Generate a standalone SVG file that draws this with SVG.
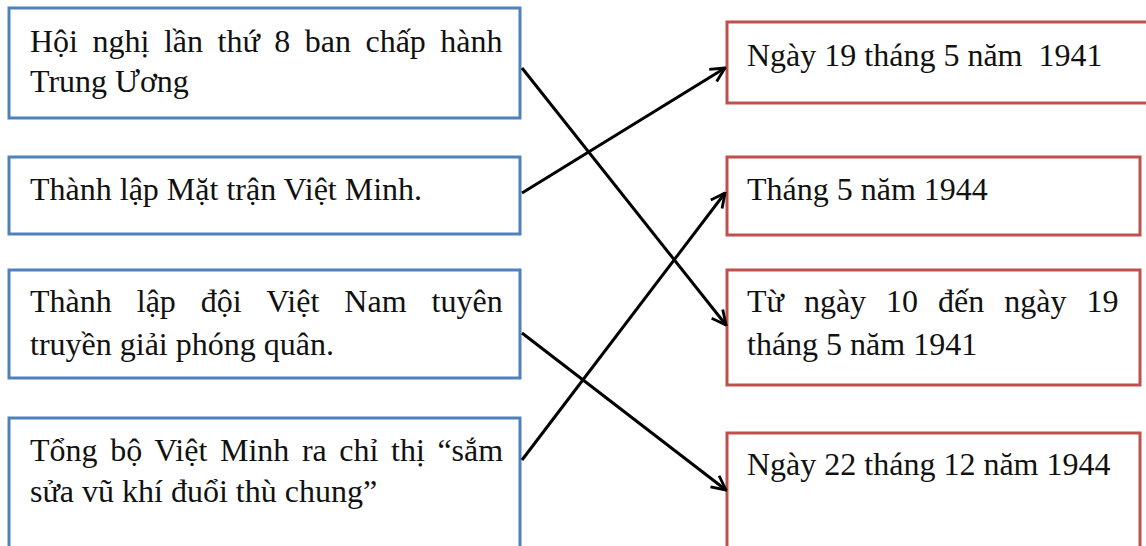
<svg xmlns="http://www.w3.org/2000/svg" width="1146" height="546" viewBox="0 0 1146 546">
<style>
.bg{fill:#ffffff}
.lbox{fill:#ffffff;stroke:#4F81BD;stroke-width:3}
.rbox{fill:#ffffff;stroke:#C0504D;stroke-width:3}
.t{font-family:"Liberation Serif","Times New Roman",serif;font-size:32px;fill:#111111;white-space:pre}
.conn{stroke:#000000;stroke-width:3;fill:none;marker-end:url(#arr)}
</style>
<defs>
<marker id="arr" viewBox="0 0 12 12" refX="11" refY="6" markerWidth="17" markerHeight="17" markerUnits="userSpaceOnUse" orient="auto">
<path d="M1,1 L11,6 L1,11" fill="none" stroke="#000000" stroke-width="2"/>
</marker>
</defs>
<rect class="bg" x="0" y="0" width="1146" height="546"/>
<g id="left1">
<rect class="lbox" x="9" y="8" width="511" height="110"/>
<text class="t" x="30" y="52" style="word-spacing:6.5px">Hội nghị lần thứ 8 ban chấp hành</text>
<text class="t" x="30" y="92">Trung Ương</text>
</g>
<g id="left2">
<rect class="lbox" x="9" y="157" width="511" height="77"/>
<text class="t" x="30" y="200">Thành lập Mặt trận Việt Minh.</text>
</g>
<g id="left3">
<rect class="lbox" x="9" y="270" width="511" height="108"/>
<text class="t" x="30" y="312" style="word-spacing:17px">Thành lập đội Việt Nam tuyên</text>
<text class="t" x="30" y="355">truyền giải phóng quân.</text>
</g>
<g id="left4">
<rect class="lbox" x="9" y="418" width="511" height="140"/>
<text class="t" x="30" y="461" style="word-spacing:4.6px">Tổng bộ Việt Minh ra chỉ thị “sắm</text>
<text class="t" x="30" y="502">sửa vũ khí đuổi thù chung”</text>
</g>
<g id="right1">
<rect class="rbox" x="727" y="22" width="430" height="81"/>
<text class="t" x="747" y="66">Ngày 19 tháng 5 năm  1941</text>
</g>
<g id="right2">
<rect class="rbox" x="727" y="157" width="413" height="78"/>
<text class="t" x="747" y="200">Tháng 5 năm 1944</text>
</g>
<g id="right3">
<rect class="rbox" x="727" y="270" width="413" height="115"/>
<text class="t" x="747" y="312" style="word-spacing:12px">Từ ngày 10 đến ngày 19</text>
<text class="t" x="747" y="355">tháng 5 năm 1941</text>
</g>
<g id="right4">
<rect class="rbox" x="727" y="433" width="413" height="130"/>
<text class="t" x="747" y="475">Ngày 22 tháng 12 năm 1944</text>
</g>
<g id="connectors">
<line class="conn" x1="522" y1="68" x2="726" y2="325"/>
<line class="conn" x1="522" y1="193" x2="725" y2="68"/>
<line class="conn" x1="522" y1="333" x2="726" y2="490"/>
<line class="conn" x1="522" y1="460" x2="725" y2="193"/>
</g>
</svg>
